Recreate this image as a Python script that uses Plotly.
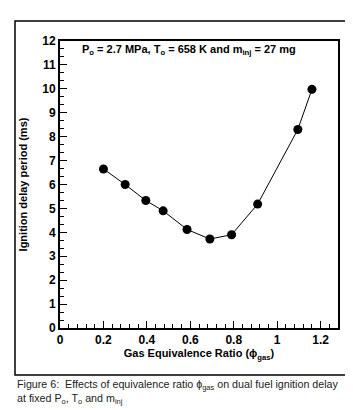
import plotly.graph_objects as go

phi_gas = [0.20, 0.30, 0.395, 0.475, 0.585, 0.69, 0.79, 0.91, 1.095, 1.16]
ignition_delay_ms = [6.65, 6.0, 5.33, 4.9, 4.12, 3.72, 3.9, 5.18, 8.3, 9.98]

x_tickvals = [0, 0.2, 0.4, 0.6, 0.8, 1.0, 1.2]
x_ticktext = ["0", "0.2", "0.4", "0.6", "0.8", "1", "1.2"]
y_tickvals = list(range(0, 13))

FONT = "Liberation Sans Narrow, Arial Narrow, Liberation Sans, Arial, sans-serif"

fig = go.Figure()
fig.add_trace(go.Scatter(
    x=phi_gas, y=ignition_delay_ms, mode="lines+markers",
    line=dict(color="black", width=1),
    marker=dict(color="black", size=9),
    showlegend=False,
))

L, R, T, B = 52, 23, 33, 90
W, H = 353, 410
pw, ph = W - L - R, H - T - B

def px(xp):
    return (xp - L) / pw

def py(yp):
    return (H - B - yp) / ph

fig.update_layout(
    width=W, height=H,
    margin=dict(l=L, r=R, t=T, b=B),
    paper_bgcolor="white", plot_bgcolor="white",
    font=dict(family=FONT, color="black"),
    xaxis=dict(
        range=[0, 1.28], tickvals=x_tickvals, ticktext=x_ticktext,
        ticks="inside", ticklen=7, tickwidth=1, tickcolor="black",
        minor=dict(dtick=0.04, tick0=0, ticks="inside", ticklen=4, tickcolor="black"),
        showline=True, linecolor="black", linewidth=2, mirror=True,
        showgrid=False, zeroline=False,
        tickfont=dict(size=12, family=FONT, weight="bold"),
        title=dict(text="<b>Gas Equivalence Ratio (ϕ<sub>gas</sub>)</b>",
                   font=dict(size=11, family=FONT), standoff=0),
    ),
    yaxis=dict(
        range=[0, 12], tickvals=y_tickvals,
        ticks="inside", ticklen=7, tickwidth=1, tickcolor="black",
        minor=dict(dtick=1/3, tick0=0, ticks="inside", ticklen=4, tickcolor="black"),
        showline=True, linecolor="black", linewidth=2, mirror=True,
        showgrid=False, zeroline=False,
        tickfont=dict(size=12, family=FONT, weight="bold"),
        title=dict(text="<b>Ignition delay period (ms)</b>",
                   font=dict(size=11, family=FONT), standoff=12),
    ),
    annotations=[
        dict(text="<b>P<sub>o</sub> = 2.7 MPa, T<sub>o</sub> = 658 K and m<sub>inj</sub> = 27 mg</b>",
             xref="paper", yref="paper", x=px(72), y=py(42), xanchor="left", yanchor="middle",
             showarrow=False, font=dict(size=11, family=FONT)),
        dict(text="Figure 6:  Effects of equivalence ratio ϕ<sub>gas</sub> on dual fuel ignition delay<br>at fixed P<sub>o</sub>, T<sub>o</sub> and m<sub>inj</sub>",
             xref="paper", yref="paper", x=px(7), y=py(368), xanchor="left", yanchor="top",
             align="left", showarrow=False,
             font=dict(size=10.7, family="Liberation Sans, Arial, sans-serif", color="#222")),
    ],
    shapes=[
        dict(type="rect", xref="paper", yref="paper",
             x0=px(7), x1=px(343), y0=py(367), y1=py(13),
             line=dict(color="black", width=1.5)),
    ],
)

fig.write_html("out.html")
